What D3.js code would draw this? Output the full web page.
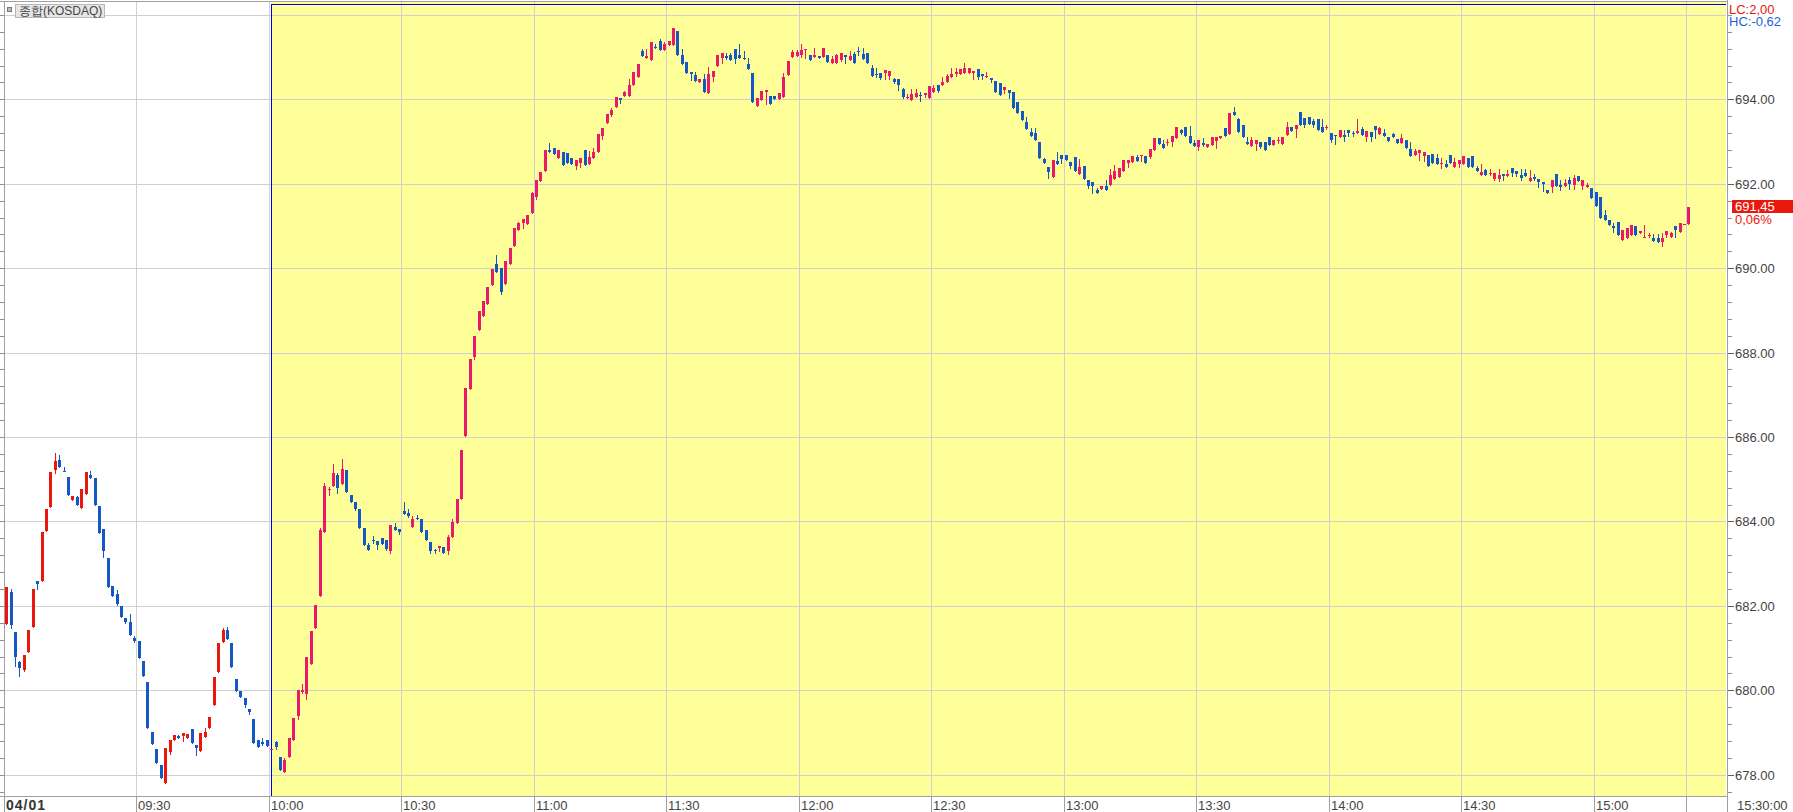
<!DOCTYPE html>
<html><head><meta charset="utf-8">
<script src="https://cdn.jsdelivr.net/npm/d3@7"></script>
<style>
body{margin:0;background:#fff;overflow:hidden}
svg{display:block}
text{font-family:"Liberation Sans",Arial,sans-serif}
</style></head><body>
<svg id="chart" width="1793" height="812"></svg>
<script>
// ---- data (1-minute candles, 04/01, KOSDAQ) ----
const opens=[
681.57,682.34,681.39,680.67,680.49,680.92,681.50,682.59,682.60,683.78,
684.35,685.23,685.45,685.20,685.06,684.50,684.57,684.33,684.64,685.09,
685.03,684.37,683.83,683.14,682.48,682.28,682.01,681.72,681.63,681.25,
681.16,680.69,680.20,679.01,678.60,678.24,677.81,678.54,678.83,678.91,
678.91,678.86,679.09,678.70,678.57,678.89,679.11,679.65,680.43,681.14,
681.42,681.11,680.28,679.99,679.81,679.57,679.31,678.83,678.78,678.83,
678.61,678.77,678.43,678.06,678.43,678.83,679.40,679.96,679.91,680.63,
681.47,682.23,683.76,684.77,684.85,685.11,684.89,685.21,684.62,684.45,
684.29,683.84,683.44,683.57,683.54,683.61,683.56,683.31,683.87,683.82,
684.24,684.20,683.87,684.09,684.05,683.80,683.51,683.33,683.37,683.40,
683.29,683.64,683.97,684.53,686.02,687.13,687.90,688.53,688.87,689.16,
689.59,690.10,690.01,689.63,690.09,690.52,690.90,691.06,691.04,691.30,
691.68,692.06,692.30,692.79,692.84,692.61,692.75,692.72,692.60,692.42,
692.49,692.79,692.47,692.61,692.75,693.13,693.44,693.62,693.82,694.02,
694.09,694.09,694.35,694.54,695.14,694.97,694.93,695.24,695.37,695.17,
695.29,695.29,695.61,695.06,694.88,694.64,694.57,694.41,694.47,694.15,
694.54,694.79,694.97,695.02,695.06,695.18,695.04,694.97,694.83,694.62,
693.84,693.98,694.17,694.09,694.09,694.01,694.06,694.57,695.00,695.03,
695.04,695.17,695.06,695.00,695.03,695.00,695.04,694.87,694.87,694.94,
695.06,694.94,695.08,695.15,695.08,695.10,694.75,694.61,694.63,694.63,
694.56,694.48,694.48,694.25,694.04,693.99,694.05,694.10,694.10,694.04,
694.17,694.34,694.34,694.40,694.52,694.59,694.59,694.63,694.63,694.63,
694.72,694.60,694.52,694.51,694.44,694.39,694.22,694.22,694.17,693.94,
693.73,693.46,693.22,693.20,692.98,692.58,692.39,692.17,692.53,692.67,
692.67,692.51,692.63,692.22,692.41,692.08,692.03,691.84,691.87,691.94,
691.98,692.11,692.17,692.29,692.48,692.51,692.63,692.66,692.65,692.63,
692.79,693.08,692.94,692.97,692.98,693.09,693.28,693.34,693.13,692.96,
692.87,692.96,692.87,692.91,693.01,693.09,693.32,693.18,693.70,693.53,
693.40,692.98,692.89,692.94,692.98,692.98,693.10,692.91,693.02,692.94,
693.16,693.34,693.30,693.70,693.56,693.58,693.49,693.53,693.34,693.33,
693.20,693.15,693.10,693.15,693.27,693.20,693.20,693.29,693.10,693.22,
693.37,693.18,693.20,693.10,693.18,693.06,692.96,693.03,692.82,692.68,
692.73,692.66,692.68,692.70,692.60,692.47,692.47,692.67,692.40,692.46,
692.47,692.60,692.65,692.37,692.21,692.33,692.23,692.11,692.11,692.23,
692.18,692.37,692.29,692.21,692.25,692.06,692.16,692.12,692.04,691.86,
691.92,692.23,691.97,691.94,692.09,691.97,692.18,691.94,691.92,691.90,
691.80,691.68,691.27,691.14,690.99,691.10,690.66,690.72,690.78,691.01,
690.83,690.73,690.78,690.71,690.71,690.61,690.79,690.75,691.01,690.85,
691.04,691.04];
const highs=[
682.46,682.41,681.39,680.70,680.83,681.44,682.39,682.59,683.76,684.30,
685.17,685.62,685.58,685.29,685.06,684.61,684.61,684.78,685.17,685.20,
685.03,684.37,683.83,683.14,682.48,682.38,682.01,681.72,681.80,681.28,
681.16,680.69,680.20,679.01,678.60,678.24,678.63,678.82,678.94,678.95,
678.98,678.96,679.09,678.70,678.99,679.11,679.36,680.31,681.11,681.47,
681.49,681.11,680.28,679.99,679.83,679.57,679.31,678.83,678.87,678.83,
678.61,678.81,678.43,678.40,678.88,679.35,680.01,680.15,680.78,681.40,
682.03,683.84,684.92,684.82,685.35,685.14,685.47,685.21,684.62,684.45,
684.29,683.84,683.48,683.66,683.54,683.61,683.56,683.91,683.96,683.82,
684.46,684.29,684.13,684.15,684.05,683.80,683.51,683.36,683.41,683.40,
683.68,684.05,684.53,685.69,687.15,687.84,688.39,688.98,689.22,689.56,
689.98,690.32,690.01,690.17,690.48,690.94,691.10,691.17,691.27,691.80,
692.10,692.27,692.79,692.96,692.84,692.79,692.75,692.72,692.60,692.56,
692.60,692.79,692.77,692.84,693.17,693.31,693.65,693.79,694.05,694.02,
694.20,694.47,694.64,694.83,695.18,695.20,695.35,695.32,695.42,695.36,
695.37,695.70,695.61,695.18,694.88,694.64,694.65,694.47,694.61,694.76,
694.67,695.06,695.09,695.09,695.09,695.18,695.30,695.14,694.99,694.62,
694.02,694.19,694.23,694.09,694.09,694.14,694.62,694.90,695.17,695.17,
695.30,695.18,695.06,695.21,695.03,695.21,695.06,695.03,695.07,695.10,
695.06,695.14,695.12,695.25,695.22,695.10,694.82,694.75,694.63,694.70,
694.67,694.50,694.48,694.27,694.13,694.25,694.25,694.17,694.15,694.32,
694.34,694.34,694.53,694.61,694.75,694.75,694.72,694.87,694.75,694.67,
694.72,694.60,694.65,694.51,694.44,694.39,694.29,694.22,694.17,693.94,
693.73,693.58,693.32,693.32,692.98,692.61,692.39,692.56,692.75,692.67,
692.67,692.51,692.63,692.58,692.41,692.10,692.03,691.91,691.95,692.08,
692.34,692.44,692.37,692.56,692.56,692.65,692.67,692.67,692.65,692.82,
693.09,693.08,693.03,693.06,693.13,693.34,693.30,693.34,693.37,693.03,
693.03,693.08,692.94,693.10,693.10,693.13,693.32,693.67,693.82,693.56,
693.40,693.10,693.10,693.03,692.98,692.98,693.10,693.03,693.10,693.10,
693.46,693.34,693.39,693.70,693.56,693.58,693.53,693.53,693.53,693.40,
693.20,693.15,693.27,693.27,693.27,693.25,693.53,693.34,693.25,693.22,
693.37,693.34,693.29,693.10,693.20,693.06,693.17,693.03,692.98,692.82,
692.79,692.75,692.68,692.70,692.70,692.60,692.56,692.67,692.60,692.56,
692.65,692.60,692.65,692.42,692.46,692.35,692.35,692.25,692.35,692.23,
692.33,692.37,692.29,692.35,692.35,692.33,692.23,692.12,692.04,691.86,
692.10,692.23,692.09,692.11,692.16,692.21,692.18,692.09,692.02,691.90,
691.80,691.68,691.37,691.14,691.06,691.10,690.90,690.94,691.03,691.01,
690.89,691.03,690.83,690.82,690.82,690.84,690.89,690.86,691.01,691.06,
691.04,691.45];
const lows=[
681.57,681.47,680.57,680.35,680.45,680.92,681.50,682.39,682.60,683.78,
684.35,685.16,685.30,685.19,684.62,684.50,684.40,684.33,684.64,685.02,
684.38,683.72,683.17,682.46,682.24,682.02,681.73,681.59,681.30,681.14,
680.76,680.35,679.11,678.72,678.27,677.93,677.81,678.50,678.83,678.86,
678.81,678.86,678.76,678.48,678.57,678.89,679.11,679.65,680.43,681.14,
681.21,680.55,679.98,679.84,679.60,679.43,678.76,678.67,678.71,678.69,
678.61,678.60,678.11,678.06,678.41,678.83,679.31,679.94,679.79,680.63,
681.47,682.23,683.76,684.63,684.85,684.67,684.89,684.70,684.46,684.27,
683.85,683.45,683.33,683.49,683.35,683.46,683.32,683.25,683.80,683.70,
684.18,684.10,683.87,684.06,683.76,683.55,683.25,683.25,683.29,683.26,
683.22,683.64,683.97,684.53,686.02,687.13,687.85,688.53,688.87,689.16,
689.59,689.92,689.40,689.63,690.09,690.52,690.90,690.94,691.04,691.30,
691.63,692.06,692.30,692.75,692.71,692.61,692.44,692.49,692.47,692.35,
692.40,692.44,692.47,692.61,692.75,693.06,693.44,693.60,693.82,693.91,
694.07,694.09,694.35,694.54,695.03,694.97,694.93,695.22,695.17,695.17,
695.29,695.29,695.05,694.84,694.63,694.46,694.43,694.41,694.17,694.15,
694.44,694.79,694.86,694.96,694.93,694.86,694.97,694.95,694.72,693.94,
693.84,693.98,693.89,693.89,694.01,694.01,694.06,694.57,695.00,695.03,
695.00,694.99,694.93,695.00,694.98,695.00,694.88,694.87,694.87,694.91,
694.87,694.94,694.85,695.04,694.96,694.87,694.56,694.53,694.47,694.47,
694.47,694.38,694.23,694.03,694.04,693.99,694.05,693.97,694.06,694.04,
694.17,694.17,694.34,694.40,694.52,694.56,694.59,694.63,694.63,694.48,
694.48,694.48,694.52,694.41,694.17,694.10,694.14,694.03,693.80,693.67,
693.51,693.29,693.13,693.03,692.60,692.48,692.13,692.17,692.46,692.48,
692.56,692.37,692.29,692.22,692.12,691.89,691.77,691.79,691.87,691.85,
691.98,692.11,692.17,692.29,692.39,692.51,692.53,692.53,692.48,692.61,
692.79,692.94,692.84,692.91,692.89,693.09,693.18,693.13,692.97,692.89,
692.79,692.89,692.87,692.91,692.84,693.09,693.13,693.18,693.63,693.23,
693.10,692.94,692.89,692.79,692.84,692.79,692.91,692.91,692.97,692.94,
693.16,693.25,693.11,693.40,693.34,693.41,693.34,693.27,693.23,693.29,
692.98,692.94,693.10,693.01,693.13,693.13,693.20,693.15,693.01,693.01,
693.09,693.18,693.13,693.01,693.10,692.96,692.96,692.84,692.66,692.68,
692.56,692.54,692.42,692.49,692.47,692.37,692.40,692.49,692.40,692.40,
692.47,692.40,692.40,692.30,692.21,692.21,692.20,692.09,692.06,692.09,
692.18,692.18,692.18,692.09,692.18,692.06,692.09,691.92,691.83,691.78,
691.80,691.94,691.86,691.94,691.87,691.87,692.06,691.87,691.92,691.66,
691.47,691.20,691.13,691.02,690.86,690.78,690.66,690.72,690.78,690.78,
690.83,690.73,690.75,690.65,690.63,690.52,690.73,690.73,690.73,690.85,
691.04,691.04];
const closes=[
682.46,681.54,680.78,680.53,680.83,681.44,682.39,682.51,683.76,684.30,
685.17,685.43,685.30,685.19,684.62,684.61,684.40,684.78,685.17,685.02,
684.38,683.72,683.30,682.46,682.24,682.04,681.73,681.63,681.31,681.16,
680.76,680.35,679.11,678.72,678.27,677.93,678.63,678.82,678.94,678.86,
678.98,678.96,678.76,678.64,678.99,679.01,679.36,680.31,681.11,681.44,
681.21,680.55,679.98,679.84,679.65,679.49,678.76,678.67,678.74,678.69,
678.61,678.67,678.11,678.34,678.88,679.35,680.01,680.02,680.78,681.40,
682.03,683.80,684.85,684.78,685.14,684.79,685.25,684.70,684.46,684.29,
683.85,683.45,683.33,683.55,683.45,683.46,683.36,683.91,683.80,683.75,
684.18,684.14,684.07,684.06,683.76,683.55,683.29,683.29,683.41,683.26,
683.63,683.98,684.53,685.69,687.15,687.84,688.39,688.98,689.22,689.56,
689.98,689.92,689.44,690.17,690.48,690.94,691.06,691.17,691.27,691.77,
692.10,692.27,692.79,692.75,692.71,692.79,692.44,692.49,692.47,692.56,
692.60,692.44,692.63,692.75,693.17,693.31,693.65,693.74,694.05,693.98,
694.17,694.35,694.64,694.83,695.03,695.03,695.35,695.22,695.17,695.30,
695.37,695.70,695.05,694.84,694.63,694.59,694.43,694.47,694.17,694.59,
694.67,695.06,695.09,694.99,694.93,694.95,694.97,694.95,694.72,693.94,
694.02,694.19,694.23,693.89,694.01,694.14,694.54,694.90,695.11,695.11,
695.16,695.18,694.93,695.06,694.98,695.21,694.88,694.96,695.04,695.10,
695.01,695.03,694.85,695.13,694.96,694.87,694.56,694.60,694.51,694.70,
694.67,694.41,694.34,694.06,694.06,694.13,694.15,694.08,694.15,694.32,
694.27,694.20,694.40,694.56,694.59,694.65,694.72,694.73,694.75,694.67,
694.52,694.56,694.56,694.46,694.17,694.10,694.29,694.15,693.80,693.67,
693.51,693.29,693.13,693.03,692.60,692.48,692.27,692.56,692.46,692.58,
692.56,692.41,692.29,692.39,692.12,691.94,691.94,691.79,691.95,691.85,
692.20,692.29,692.37,692.56,692.56,692.65,692.53,692.67,692.48,692.82,
693.09,692.94,692.84,692.98,693.13,693.34,693.20,693.13,692.97,692.89,
693.03,692.91,692.94,693.10,693.10,693.13,693.13,693.67,693.63,693.23,
693.10,692.94,693.03,693.03,692.87,692.79,692.91,693.03,693.03,693.10,
693.34,693.25,693.39,693.40,693.40,693.41,693.39,693.27,693.23,693.34,
693.03,693.13,693.27,693.10,693.20,693.18,693.25,693.15,693.25,693.10,
693.28,693.32,693.13,693.01,693.10,692.96,693.08,692.84,692.66,692.77,
692.79,692.75,692.42,692.49,692.47,692.49,692.40,692.49,692.52,692.56,
692.65,692.40,692.40,692.30,692.28,692.21,692.25,692.25,692.21,692.18,
692.23,692.25,692.23,692.13,692.18,692.13,692.11,692.04,691.99,691.78,
692.10,691.94,691.92,692.02,691.99,692.13,692.06,692.09,691.97,691.66,
691.47,691.20,691.13,691.02,690.94,690.78,690.90,690.94,691.03,690.78,
690.89,690.75,690.79,690.65,690.63,690.71,690.89,690.84,690.91,691.06,
691.04,691.45];
const timeLabels=["04/01","09:30","10:00","10:30","11:00","11:30","12:00","12:30","13:00","13:30","14:00","14:30","15:00"];
const priceTicks=[678,680,682,684,686,688,690,692,694,696];
const priceLabels=["678.00","680.00","682.00","684.00","686.00","688.00","690.00","692.00","694.00",""];
const lastTimeLabel="15:30:00";
const lastPriceLabel="691,45";
const lastChangeLabel="0,06%";
const seriesName="종합(KOSDAQ)";
const lcLabel="LC:2,00", hcLabel="HC:-0,62";
const highlightStart="10:00";

// ---- layout ----
const svg=d3.select("#chart");
const L=4, R=1726, T=2, B=796;
const nSlots=390;
const x=d3.scaleLinear().domain([0,nSlots]).range([L,R]);
const y=d3.scaleLinear().domain([678,694]).range([774.8,99.3]);
const slotOf=t=>{ if(t.indexOf(":")<0) return 0; const [h,m]=t.split(":").map(Number); return (h-9)*60+m; };
const closeSlot=opens.length-1;
const cx=i=>Math.round(x(i+0.5));

const g=svg.append("g").attr("shape-rendering","crispEdges");

// highlight area
const hs=slotOf(highlightStart);
g.append("rect").attr("x",x(hs)+2).attr("y",T).attr("width",R-x(hs)-2).attr("height",B-T).attr("fill","#ffff99");

// grid
const gridSlots=timeLabels.map(slotOf).slice(1).concat([closeSlot]);
g.selectAll(".vg").data(gridSlots).enter().append("line")
 .attr("x1",d=>Math.round(x(d))+0.5).attr("x2",d=>Math.round(x(d))+0.5)
 .attr("y1",T).attr("y2",B).attr("stroke","#d0d0d0");
g.selectAll(".hg").data(priceTicks).enter().append("line")
 .attr("x1",L).attr("x2",R).attr("y1",d=>Math.round(y(d))+0.5).attr("y2",d=>Math.round(y(d))+0.5)
 .attr("stroke","#d0d0d0");

// highlight border
g.append("line").attr("x1",Math.round(x(hs))+2.5).attr("x2",Math.round(x(hs))+2.5).attr("y1",4).attr("y2",B).attr("stroke","#0000ee");
g.append("line").attr("x1",Math.round(x(hs))+2).attr("x2",R).attr("y1",4.5).attr("y2",4.5).attr("stroke","#0000ee");

// frame
g.append("line").attr("x1",0).attr("x2",R+1).attr("y1",1.5).attr("y2",1.5).attr("stroke","#a0a0a0");
g.append("line").attr("x1",L+0.5).attr("x2",L+0.5).attr("y1",1).attr("y2",B).attr("stroke","#a0a0a0");
g.append("line").attr("x1",R+1.5).attr("x2",R+1.5).attr("y1",0).attr("y2",812).attr("stroke","#a0a0a0");
g.append("line").attr("x1",0).attr("x2",R+1).attr("y1",B+0.5).attr("y2",B+0.5).attr("stroke","#a0a0a0");

// minor ticks
const minor=d3.range(677.6,696.3,0.4);
g.selectAll(".mt").data(minor).enter().append("line")
 .attr("x1",R+2).attr("x2",R+6).attr("y1",d=>Math.round(y(d))+0.5).attr("y2",d=>Math.round(y(d))+0.5).attr("stroke","#909090");
g.selectAll(".ml").data(minor).enter().append("line")
 .attr("x1",0).attr("x2",L).attr("y1",d=>Math.round(y(d))+0.5).attr("y2",d=>Math.round(y(d))+0.5).attr("stroke","#909090");

// bottom axis ticks
g.selectAll(".bt").data([0].concat(gridSlots)).enter().append("line")
 .attr("x1",d=>Math.round(x(d))+0.5).attr("x2",d=>Math.round(x(d))+0.5).attr("y1",B).attr("y2",812).attr("stroke","#a0a0a0");

// candles
const idx=d3.range(opens.length);
const upCol=i=>i<hs?"#e8180c":"#ea1a6a";
const downCol="#1558c4";
const col=i=>closes[i]<opens[i]?downCol:upCol(i);
const cg=g.append("g");
cg.selectAll(".wick").data(idx).enter().append("rect")
 .attr("x",i=>cx(i)).attr("width",1)
 .attr("y",i=>Math.round(y(highs[i])))
 .attr("height",i=>Math.max(1,Math.round(y(lows[i]))-Math.round(y(highs[i]))+1))
 .attr("fill",col);
cg.selectAll(".body").data(idx).enter().append("rect")
 .attr("x",i=>cx(i)-1).attr("width",3)
 .attr("y",i=>Math.round(y(Math.max(opens[i],closes[i]))))
 .attr("height",i=>Math.max(1,Math.round(y(Math.min(opens[i],closes[i])))-Math.round(y(Math.max(opens[i],closes[i])))))
 .attr("fill",col);

// y labels
svg.selectAll(".yl").data(priceTicks.filter((d,i)=>priceLabels[i])).enter().append("text")
 .attr("x",R+9).attr("y",d=>y(d)+5).attr("font-size",13).attr("fill","#444")
 .text(d=>priceLabels[priceTicks.indexOf(d)]);
g.selectAll(".yt").data(priceTicks.filter((d,i)=>priceLabels[i])).enter().append("line")
 .attr("x1",R+2).attr("x2",R+8).attr("y1",d=>Math.round(y(d))+0.5).attr("y2",d=>Math.round(y(d))+0.5).attr("stroke","#606060");

// x labels
svg.selectAll(".xl").data(timeLabels).enter().append("text")
 .attr("x",d=>Math.round(x(slotOf(d)))+2).attr("y",810)
 .attr("font-size",(d,i)=>i===0?14:13)
 .attr("letter-spacing",(d,i)=>i===0?1:0)
 .attr("font-weight",(d,i)=>i===0?"bold":"normal").attr("fill",(d,i)=>i===0?"#333":"#444")
 .text(d=>d);
svg.append("text").attr("x",R+11).attr("y",810).attr("font-size",13).attr("fill","#444").text(lastTimeLabel);

// last price box
const lp=closes[closes.length-1];
svg.append("rect").attr("x",R+6).attr("y",Math.round(y(lp))-7).attr("width",1793-R-6).attr("height",13).attr("fill","#e8180c");
svg.append("text").attr("x",R+9).attr("y",Math.round(y(lp))+4).attr("font-size",13).attr("fill","#fff").text(lastPriceLabel);
svg.append("text").attr("x",R+9).attr("y",Math.round(y(lp))+17).attr("font-size",13).attr("fill","#e8180c").text(lastChangeLabel);

// LC / HC
svg.append("text").attr("x",R+3).attr("y",14).attr("font-size",13).attr("fill","#e8180c").text(lcLabel);
svg.append("text").attr("x",R+3).attr("y",26).attr("font-size",13).attr("fill","#1a62d8").text(hcLabel);

// legend
svg.append("rect").attr("x",7.5).attr("y",7.5).attr("width",4).attr("height",4).attr("fill","#bbb").attr("stroke","#777");
svg.append("rect").attr("x",15.5).attr("y",4.5).attr("width",89).attr("height",13).attr("fill","#e6e6e6").attr("stroke","#b8b8b8");
svg.append("text").attr("x",19).attr("y",15).attr("font-size",12).attr("font-family","Noto Sans CJK KR").attr("fill","#444").text(seriesName);
</script>
</body></html>
